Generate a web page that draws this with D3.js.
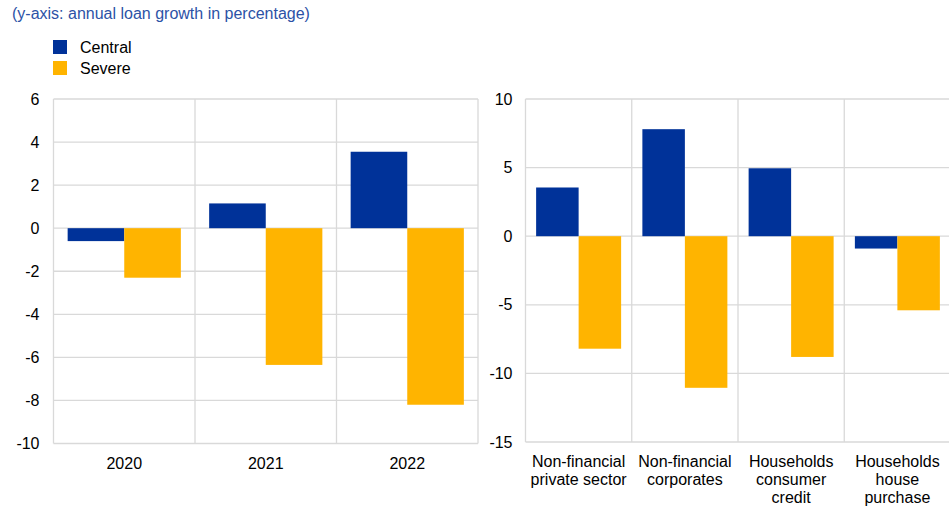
<!DOCTYPE html>
<html><head><meta charset="utf-8">
<script src="https://d3js.org/d3.v7.min.js"></script>
<style>body{margin:0;background:#fff;}svg{display:block;font-family:"Liberation Sans",Arial,sans-serif;}</style>
</head><body>
<script>
const series = ["Central", "Severe"];
const colors = ["#003299", "#ffb400"];
const leftCategories = [["2020"], ["2021"], ["2022"]];
const leftCentral = [-0.6, 1.15, 3.55];
const leftSevere = [-2.3, -6.35, -8.2];
const leftTicks = [6, 4, 2, 0, -2, -4, -6, -8, -10];
const rightCategories = [["Non-financial", "private sector"], ["Non-financial", "corporates"], ["Households", "consumer", "credit"], ["Households", "house", "purchase"]];
const rightCentral = [3.55, 7.8, 4.95, -0.9];
const rightSevere = [-8.2, -11.05, -8.8, -5.4];
const rightTicks = [10, 5, 0, -5, -10, -15];
const title = "(y-axis: annual loan growth in percentage)";

const W = 949, H = 506;
const svg = d3.select("body").append("svg").attr("width", W).attr("height", H);
const grid = "#d9d9d9";

svg.append("text").attr("x", 12).attr("y", 19).attr("fill", "#2c52a6")
  .style("font-size", "16px").text(title);

series.forEach((s, i) => {
  svg.append("rect").attr("x", 53).attr("y", 40 + i * 21).attr("width", 14).attr("height", 14).attr("fill", colors[i]);
  svg.append("text").attr("x", 80).attr("y", 53 + i * 21).attr("fill", "#000").style("font-size", "16px").text(s);
});

function panel(cats, central, severe, ticks, x0, x1, y0, y1, labelGap) {
  const names = cats.map(c => c.join(" "));
  const x = d3.scaleBand().domain(names).range([x0, x1]).padding(0);
  const inner = d3.scaleBand().domain(series).range([x.bandwidth() * 0.1, x.bandwidth() * 0.9]).padding(0);
  const y = d3.scaleLinear().domain([d3.min(ticks), d3.max(ticks)]).range([y1, y0]);
  const g = svg.append("g");
  g.selectAll("line.h").data(ticks).join("line")
    .attr("x1", x0).attr("x2", x1).attr("y1", d => y(d)).attr("y2", d => y(d))
    .attr("stroke", grid).attr("stroke-width", 1.3);
  const vb = names.map(n => x(n)).concat([x1]);
  g.selectAll("line.v").data(vb).join("line")
    .attr("x1", d => d).attr("x2", d => d).attr("y1", y0).attr("y2", y1)
    .attr("stroke", grid).attr("stroke-width", 1.3);
  const rows = names.map((n, i) => ({ n, vals: [central[i], severe[i]] }));
  rows.forEach(r => {
    r.vals.forEach((v, j) => {
      g.append("rect")
        .attr("x", x(r.n) + inner(series[j]))
        .attr("width", inner.bandwidth())
        .attr("y", y(Math.max(0, v)))
        .attr("height", Math.abs(y(v) - y(0)))
        .attr("fill", colors[j]);
    });
  });
  const ya = d3.axisLeft(y).tickValues(ticks).tickSize(0).tickPadding(labelGap).tickFormat(d => String(d));
  const ag = g.append("g").attr("transform", `translate(${x0},0)`).call(ya);
  ag.select(".domain").remove();
  ag.selectAll("text").style("font-size", "16px").attr("fill", "#000").style("font-family", "Liberation Sans, Arial, sans-serif");
  cats.forEach((c, i) => {
    const cx = x(names[i]) + x.bandwidth() / 2;
    const t = g.append("text").attr("text-anchor", "middle").attr("fill", "#000").style("font-size", "16px")
      .attr("x", cx).attr("y", y1 + 25);
    c.forEach((line, k) => t.append("tspan").attr("x", cx).attr("dy", k === 0 ? 0 : 18).text(line));
  });
}

panel(leftCategories, leftCentral, leftSevere, leftTicks, 53.5, 478, 99, 443.5, 14);
panel(rightCategories, rightCentral, rightSevere, rightTicks, 525.5, 950.5, 99, 442, 13);
</script>
</body></html>
